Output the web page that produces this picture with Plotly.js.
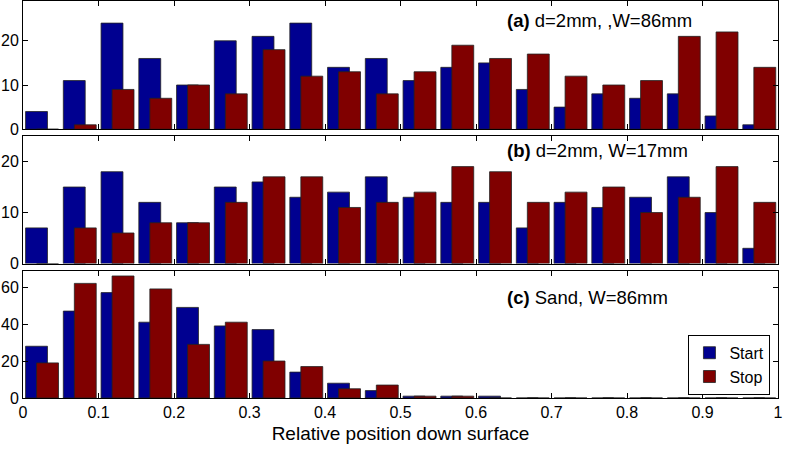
<!DOCTYPE html>
<html>
<head>
<meta charset="utf-8">
<script src="https://cdn.plot.ly/plotly-3.0.1.min.js"></script>
<style>
  body { margin: 0; background: #fff; }
  #chart { width: 785px; height: 453px; }
</style>
</head>
<body>
<div id="chart"></div>
<script>
// bin centres (relative position, 20 bins of 0.05)
var binCenters = [0.025, 0.075, 0.125, 0.175, 0.225, 0.275, 0.325, 0.375, 0.425, 0.475,
                  0.525, 0.575, 0.625, 0.675, 0.725, 0.775, 0.825, 0.875, 0.925, 0.975];

// (a) d=2mm, W=86mm
var startA = [4, 11, 24, 16, 10, 20, 21, 24, 14, 16, 11, 14, 15, 9, 5, 8, 7, 8, 3, 1];
var stopA  = [0, 1, 9, 7, 10, 8, 18, 12, 13, 8, 13, 19, 16, 17, 12, 10, 11, 21, 22, 14];

// (b) d=2mm, W=17mm
var startB = [7, 15, 18, 12, 8, 15, 16, 13, 14, 17, 13, 12, 12, 7, 12, 11, 13, 17, 10, 3];
var stopB  = [0, 7, 6, 8, 8, 12, 17, 17, 11, 12, 14, 19, 18, 12, 14, 15, 10, 13, 19, 12];

// (c) Sand, W=86mm
var startC = [28, 47, 57, 41, 49, 39, 37, 14, 8, 4, 1, 1, 1, 0, 0, 0, 0, 0, 0, 0];
var stopC  = [19, 62, 66, 59, 29, 41, 20, 17, 5, 7, 1, 1, 0, 0, 0, 0, 0, 0, 0, 0];

var panelLabels = ['d=2mm, ,W=86mm', 'd=2mm, W=17mm', 'Sand, W=86mm'];
var panelTags = ['(a)', '(b)', '(c)'];

var blue = '#000090';
var red = '#800000';
var barW = 0.029;

function bars(vals, name, color, off, xa, ya, legend) {
  return {
    type: 'bar', x: binCenters, y: vals, name: name,
    width: barW, offset: off,
    marker: { color: color, line: { color: '#222', width: 0.8 } },
    xaxis: xa, yaxis: ya, showlegend: legend
  };
}

var data = [
  bars(startA, 'Start', blue, -0.0216, 'x', 'y', false),
  bars(stopA, 'Stop', red, -0.007, 'x', 'y', false),
  bars(startB, 'Start', blue, -0.0216, 'x2', 'y2', false),
  bars(stopB, 'Stop', red, -0.007, 'x2', 'y2', false),
  bars(startC, 'Start', blue, -0.0216, 'x3', 'y3', true),
  bars(stopC, 'Stop', red, -0.007, 'x3', 'y3', true)
];

var family = 'Liberation Sans, Arial, sans-serif';
var fnt = { family: family, size: 16, color: '#000' };

function xax(anchor, labels) {
  return {
    domain: [0, 1], anchor: anchor, range: [0, 1], dtick: 0.1,
    showticklabels: labels, ticks: 'inside', ticklen: 5, tickcolor: '#000',
    showline: true, linecolor: '#000', linewidth: 1, mirror: 'ticks',
    showgrid: false, zeroline: false, tickfont: fnt
  };
}
function yax(anchor, dom, top, step) {
  return {
    domain: dom, anchor: anchor, range: [0, top], dtick: step,
    ticks: 'inside', ticklen: 5, tickcolor: '#000',
    showline: true, linecolor: '#000', linewidth: 1, mirror: 'ticks',
    showgrid: false, zeroline: false, tickfont: fnt
  };
}

var xc = xax('y3', true);
xc.title = { text: 'Relative position down surface', font: { family: family, size: 19, color: '#000' }, standoff: 6 };

var ann = [];
var annY = [0.951, 0.624, 0.254];
for (var i = 0; i < 3; i++) {
  ann.push({
    xref: 'paper', yref: 'paper', x: 0.639, y: annY[i], xanchor: 'left', yanchor: 'middle',
    text: '<b>' + panelTags[i] + '</b> ' + panelLabels[i], showarrow: false,
    font: { family: family, size: 18.5, color: '#000' }
  });
}

var layout = {
  width: 785, height: 453,
  margin: { l: 23, r: 7, t: 1, b: 55 },
  paper_bgcolor: '#fff', plot_bgcolor: '#fff',
  barmode: 'overlay',
  font: fnt,
  xaxis: xax('y', false),
  yaxis: yax('x', [0.677, 1], 29, 10),
  xaxis2: xax('y2', false),
  yaxis2: yax('x2', [0.3385, 0.66], 25, 10),
  xaxis3: xc,
  yaxis3: yax('x3', [0, 0.319], 68.5, 20),
  legend: {
    x: 0.99, y: 0.008, xanchor: 'right', yanchor: 'bottom',
    bgcolor: '#fff', bordercolor: '#000', borderwidth: 1,
    font: { family: family, size: 16, color: '#000' },
    traceorder: 'normal', tracegroupgap: 0, entrywidth: 80
  },
  annotations: ann
};

Plotly.newPlot('chart', data, layout, { displayModeBar: false, staticPlot: true });
</script>
</body>
</html>
